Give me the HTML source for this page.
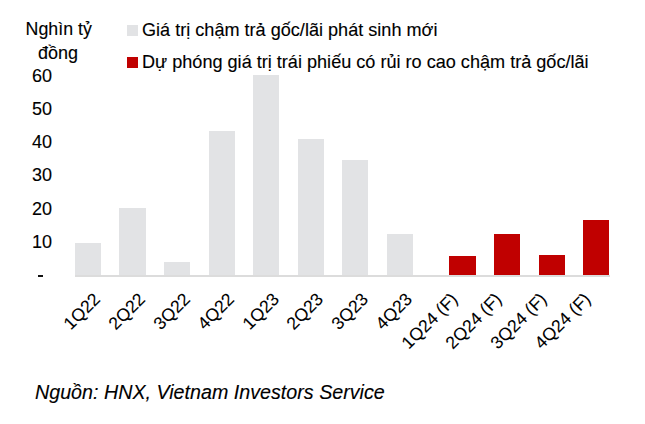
<!DOCTYPE html>
<html><head><meta charset="utf-8"><style>
html,body{margin:0;padding:0;background:#fff;}
body{width:645px;height:424px;position:relative;overflow:hidden;font-family:"Liberation Sans",sans-serif;color:#000;-webkit-text-stroke:0.12px #000;}
.bar{position:absolute;width:26.2px;}
.axis{position:absolute;left:75px;top:275px;width:534.5px;height:2px;background:#dcdcdc;}
.t{position:absolute;white-space:nowrap;font-size:18px;line-height:18px;}
.lg{position:absolute;white-space:nowrap;font-size:18.1px;line-height:18px;}
.yl{position:absolute;right:593px;font-size:18px;line-height:18px;white-space:nowrap;}
.xl{position:absolute;font-size:17.6px;line-height:18px;white-space:nowrap;transform-origin:100% 50%;transform:rotate(-45deg);-webkit-text-stroke:0.08px #000;}
.sq{position:absolute;width:11px;height:11px;}
.src{position:absolute;left:35px;top:382.3px;font-size:19.7px;line-height:20px;font-style:italic;white-space:nowrap;}
</style></head><body>
<div class="t" style="left:25.6px;top:20px;font-size:17.8px">Nghìn tỷ</div>
<div class="t" style="left:38px;top:44px">đồng</div>
<div class="sq" style="left:127px;top:25px;background:#e2e3e5"></div>
<div class="lg" style="left:142px;top:21.25px">Giá trị chậm trả gốc/lãi phát sinh mới</div>
<div class="sq" style="left:127px;top:57px;background:#c00000"></div>
<div class="lg" style="left:142px;top:53px">Dự phóng giá trị trái phiếu có rủi ro cao chậm trả gốc/lãi</div>
<div class="yl" style="top:67px">60</div><div class="yl" style="top:100px">50</div><div class="yl" style="top:133px">40</div><div class="yl" style="top:166px">30</div><div class="yl" style="top:200px">20</div><div class="yl" style="top:233px">10</div>
<div style="position:absolute;left:38px;top:275px;width:5px;height:2px;background:#111"></div>
<div class="bar" style="left:74.82px;top:243.00px;height:32.00px;background:#e2e3e5"></div><div class="bar" style="left:119.39px;top:207.75px;height:67.25px;background:#e2e3e5"></div><div class="bar" style="left:163.97px;top:262.00px;height:13.00px;background:#e2e3e5"></div><div class="bar" style="left:208.54px;top:130.60px;height:144.40px;background:#e2e3e5"></div><div class="bar" style="left:253.12px;top:75.00px;height:200.00px;background:#e2e3e5"></div><div class="bar" style="left:297.69px;top:139.00px;height:136.00px;background:#e2e3e5"></div><div class="bar" style="left:342.26px;top:160.00px;height:115.00px;background:#e2e3e5"></div><div class="bar" style="left:386.84px;top:234.25px;height:40.75px;background:#e2e3e5"></div><div class="bar" style="left:449.37px;top:256.00px;height:19.00px;background:#c00000"></div><div class="bar" style="left:493.95px;top:234.00px;height:41.00px;background:#c00000"></div><div class="bar" style="left:538.52px;top:255.00px;height:20.00px;background:#c00000"></div><div class="bar" style="left:583.09px;top:220.00px;height:55.00px;background:#c00000"></div>
<div class="axis"></div>
<div class="xl" style="right:547.50px;top:286.8px">1Q22</div><div class="xl" style="right:502.93px;top:286.8px">2Q22</div><div class="xl" style="right:458.35px;top:286.8px">3Q22</div><div class="xl" style="right:413.78px;top:286.8px">4Q22</div><div class="xl" style="right:369.20px;top:286.8px">1Q23</div><div class="xl" style="right:324.63px;top:286.8px">2Q23</div><div class="xl" style="right:280.06px;top:286.8px">3Q23</div><div class="xl" style="right:235.48px;top:286.8px">4Q23</div><div class="xl" style="right:190.91px;top:286.8px">1Q24 (F)</div><div class="xl" style="right:146.33px;top:286.8px">2Q24 (F)</div><div class="xl" style="right:101.76px;top:286.8px">3Q24 (F)</div><div class="xl" style="right:57.19px;top:286.8px">4Q24 (F)</div>
<div class="src">Nguồn: HNX, Vietnam Investors Service</div>
</body></html>
